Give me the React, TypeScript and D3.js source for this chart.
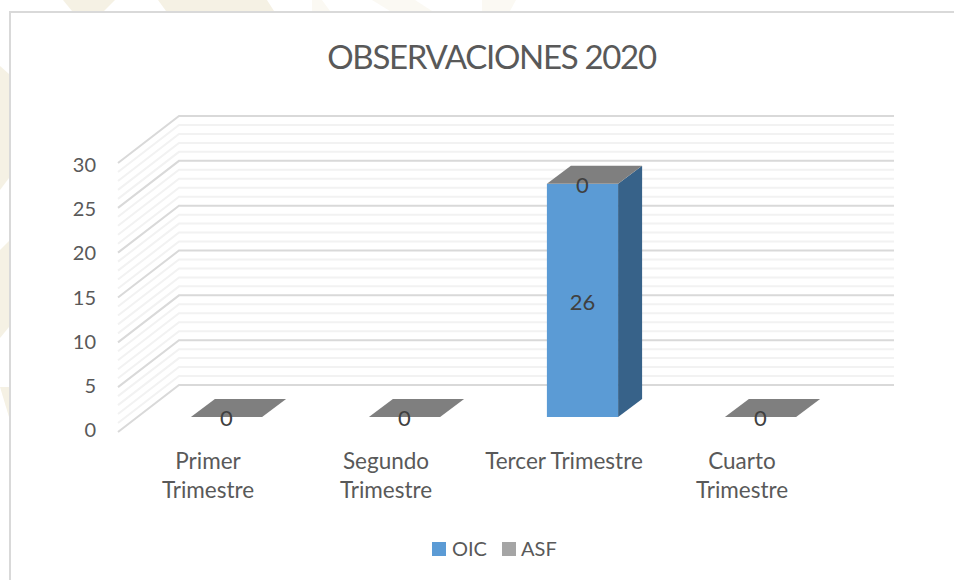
import React from "react";
import * as d3 from "d3";

const categories = [["Primer", "Trimestre"], ["Segundo", "Trimestre"], ["Tercer Trimestre"], ["Cuarto", "Trimestre"]];
const oic = [0, 0, 26, 0];
const asf = [0, 0, 0, 0];
const yTicks = [0, 5, 10, 15, 20, 25, 30];
const minorTicks = [1, 2, 3, 4, 6, 7, 8, 9, 11, 12, 13, 14, 16, 17, 18, 19, 21, 22, 23, 24, 26, 27, 28, 29];

const width = 954;
const height = 580;
const font = "Lato, 'Open Sans', sans-serif";
const textColor = "#595959";

// back wall of the 3d plot, the front edge is the same scale shifted by the floor depth
const y = d3.scaleLinear().domain([0, 30]).range([385, 116]);
const yLabel = d3.scaleLinear().domain([0, 30]).range([429, 164]);
const wallRight = 894;
const wallLeft = 179;
const floorDx = -61;
const floorDy = 47;

const x = d3
  .scaleBand<number>()
  .domain(d3.range(categories.length))
  .range([137.5, 849.5])
  .paddingInner(0.6)
  .paddingOuter(0.3);

// bar sits in the middle of the floor depth
const barDy = 32;
const depthX = 24;
const depthY = 18;

const line = d3.line();

const App = () => {
  const bw = x.bandwidth();
  return (
    <svg
      width={width}
      height={height}
      style={{ position: "absolute", left: 0, top: 0 }}
    >
      <rect width={width} height={height} fill="#fff" />
      {/* faint watermark showing round the chart card */}
      <g fill="#f5f1e4">
        <path d="M63,0 L115,0 L104,11 L72,11 Z" />
        <path d="M158,0 L267,0 L274,11 L166,11 Z" />
        <path d="M0,66 L9,74 L9,178 L0,190 Z" />
        <path d="M9,241 L9,327 L0,338 L0,250 Z" />
        <path d="M0,387 L9,387 L9,417 Z" />
      </g>
      <g fill="#fbf9f3">
        <path d="M312,0 L322,0 L330,11 L312,11 Z" />
        <path d="M372,0 L415,0 L432,11 L390,11 Z" />
        <path d="M482,0 L516,0 L510,11 L482,11 Z" />
      </g>
      <rect x={10} y={12} width={944} height={568} fill="#fff" />
      <path d={line([[10, 580], [10, 12], [954, 12]]) ?? ""} fill="none" stroke="#d9d9d9" strokeWidth={2} />

      <text x={491.5} y={69} textAnchor="middle" fontFamily={font} fontSize={33} letterSpacing={-1.3} fill="#595959">
        OBSERVACIONES 2020
      </text>

      {minorTicks.map((t) => (
        <path
          key={t}
          d={line([[wallLeft + floorDx, y(t) + floorDy], [wallLeft, y(t)], [wallRight, y(t)]]) ?? ""}
          fill="none"
          stroke="#f2f2f2"
          strokeWidth={2}
        />
      ))}
      {yTicks.map((t) => (
        <g key={t}>
          <path
            d={line([[wallLeft + floorDx, y(t) + floorDy], [wallLeft, y(t)], [wallRight, y(t)]]) ?? ""}
            fill="none"
            stroke="#d9d9d9"
            strokeWidth={2}
          />
          <text x={96} y={yLabel(t) + 3} textAnchor="end" dominantBaseline="middle" fontFamily={font} fontSize={20} fill={textColor}>
            {t}
          </text>
        </g>
      ))}

      {categories.map((c, i) => {
        const x0 = x(i) ?? 0;
        const base = y(0) + barDy;
        const top = y(oic[i]) + barDy;
        const capTop = y(oic[i] + asf[i]) + barDy;
        return (
          <g key={i}>
            {oic[i] > 0 && (
              <>
                <rect x={x0} y={top} width={bw} height={base - top} fill="#5b9bd5" />
                <path
                  d={line([[x0 + bw, top], [x0 + bw + depthX, top - depthY], [x0 + bw + depthX, base - depthY], [x0 + bw, base]]) + "Z"}
                  fill="#376289"
                />
              </>
            )}
            <path
              d={line([[x0, capTop], [x0 + depthX, capTop - depthY], [x0 + bw + depthX, capTop - depthY], [x0 + bw, capTop]]) + "Z"}
              fill="#7f7f7f"
            />
            {oic[i] > 0 && (
              <text x={x0 + bw / 2} y={y(oic[i] / 2) + barDy + 4} textAnchor="middle" dominantBaseline="middle" fontFamily={font} fontSize={22} fill="#404040">
                {oic[i]}
              </text>
            )}
            <text x={x0 + bw / 2} y={capTop + 3.5} textAnchor="middle" dominantBaseline="middle" fontFamily={font} fontSize={22} fill="#404040">
              {asf[i]}
            </text>
            {c.map((label, j) => (
              <text key={j} x={x0 + bw / 2 - 18.5} y={469 + j * 28.5} textAnchor="middle" fontFamily={font} fontSize={22.5} fill={textColor}>
                {label}
              </text>
            ))}
          </g>
        );
      })}

      <rect x={432} y={542} width={14} height={14} fill="#5b9bd5" />
      <text x={452} y={556} fontFamily={font} fontSize={20} fill={textColor}>OIC</text>
      <rect x={502} y={542} width={14} height={14} fill="#a5a5a5" />
      <text x={521} y={556} fontFamily={font} fontSize={20} fill={textColor}>ASF</text>
    </svg>
  );
};

export default App;
